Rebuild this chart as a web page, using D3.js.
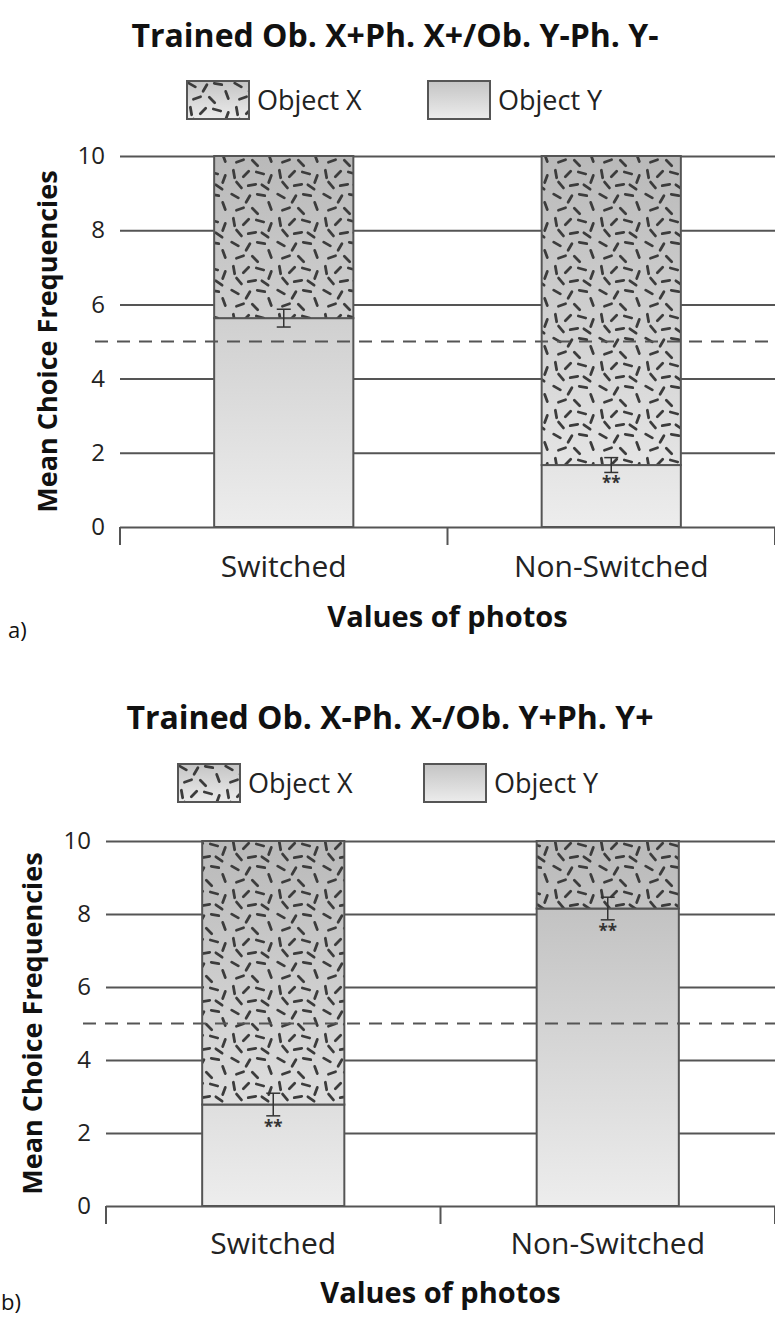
<!DOCTYPE html>
<html>
<head>
<meta charset="utf-8">
<script src="https://cdn.jsdelivr.net/npm/d3@7"></script>
<style>
  body { margin: 0; background: #fff; }
  svg { display: block; font-family: "Open Sans", sans-serif; }
</style>
</head>
<body>
<div id="chart"></div>
<script>
// data
var categories = ["Switched", "Non-Switched"];
var seriesNames = ["Object X", "Object Y"];
var yTicks = [0, 2, 4, 6, 8, 10];
var total = 10;
var chance = 5;

var titleA = "Trained Ob. X+Ph. X+/Ob. Y-Ph. Y-";
var objectYA = [5.63, 1.67];
var errA = [0.24, 0.2];
var starsA = ["", "**"];

var titleB = "Trained Ob. X-Ph. X-/Ob. Y+Ph. Y+";
var objectYB = [2.78, 8.15];
var errB = [0.31, 0.31];
var starsB = ["**", "**"];

var W = 775, H = 1317;
var ink = "#555";

var svg = d3.select("#chart")
  .append("svg")
    .attr("width", W)
    .attr("height", H);

var defs = svg.append("defs");

// confetti dashes for the Object X texture (one pattern tile)
var dashes = [[5,4,30],[18,7,-60],[31,3,10],[40,14,70],[10,17,-20],[25,19,45],[4,30,80],
              [16,30,-45],[30,29,15],[40,35,-70],[9,41,50],[22,41,-10],[35,43,35]];
var pat = defs.append("pattern")
    .attr("id", "confetti")
    .attr("patternUnits", "userSpaceOnUse")
    .attr("width", 46).attr("height", 48);
pat.selectAll("line")
  .data(dashes)
  .enter().append("line")
    .attr("x1", -3.8).attr("x2", 3.8)
    .attr("y1", 0).attr("y2", 0)
    .attr("transform", function(d){ return "translate(" + d[0] + "," + d[1] + ") rotate(" + d[2] + ")"; })
    .attr("stroke", "#3c3c3c")
    .attr("stroke-width", 2.8)
    .attr("stroke-linecap", "round");

var legGrad = defs.append("linearGradient")
    .attr("id", "legGrad").attr("x1", 0).attr("y1", 0).attr("x2", 0).attr("y2", 1);
legGrad.append("stop").attr("offset", 0).attr("stop-color", "#c4c4c4");
legGrad.append("stop").attr("offset", 1).attr("stop-color", "#ececec");

function drawPanel(p) {
  var g = svg.append("g");

  var y = d3.scaleLinear().domain([0, total]).range([p.bottom, p.top]);
  var x = d3.scaleBand().domain(categories)
    .range([p.left, p.right])
    .paddingInner(0.575).paddingOuter(0.2875);

  // gray gradient spanning the value range
  var grad = defs.append("linearGradient")
      .attr("id", "grad" + p.id)
      .attr("gradientUnits", "userSpaceOnUse")
      .attr("x1", 0).attr("x2", 0)
      .attr("y1", y(total)).attr("y2", y(0));
  grad.append("stop").attr("offset", 0).attr("stop-color", "#b9b9b9");
  grad.append("stop").attr("offset", 1).attr("stop-color", "#ededed");

  // title
  g.append("text")
    .attr("x", p.titleX).attr("y", p.titleY)
    .attr("text-anchor", "middle")
    .style("font-size", "32px").style("font-weight", "bold")
    .attr("fill", "#111")
    .text(p.title);

  // legend
  var leg = g.selectAll(".leg")
    .data(seriesNames)
    .enter().append("g")
      .attr("transform", function(d, i){ return "translate(" + p.legX[i] + "," + p.legY + ")"; });
  leg.append("rect")
    .attr("width", 62).attr("height", 38)
    .attr("fill", "url(#legGrad)");
  leg.filter(function(d, i){ return i === 0; }).append("rect")
    .attr("width", 62).attr("height", 38)
    .attr("fill", "url(#confetti)");
  leg.append("rect")
    .attr("width", 62).attr("height", 38)
    .attr("fill", "none").attr("stroke", ink).attr("stroke-width", 2);
  leg.append("text")
    .attr("x", 70).attr("y", 29)
    .style("font-size", "27px")
    .attr("fill", "#222")
    .text(function(d){ return d; });

  // gridlines + y tick labels
  var yAxis = g.append("g")
    .attr("transform", "translate(" + p.left + ",0)")
    .call(d3.axisLeft(y).tickValues(yTicks).tickSize(-(p.right - p.left)).tickPadding(15));
  yAxis.select(".domain").remove();
  yAxis.selectAll(".tick line").attr("stroke", ink).attr("stroke-width", 2);
  yAxis.selectAll(".tick text")
    .style("font-size", "24px").style("font-family", "Open Sans, sans-serif")
    .attr("fill", "#222");

  // category boundary ticks on the x axis
  var bounds = [p.left].concat(categories.map(function(c){
    return x(c) + x.bandwidth() + x.step() * x.paddingInner() / 2;
  }));
  g.selectAll(".btick")
    .data(bounds)
    .enter().append("line")
      .attr("x1", function(d){ return d; }).attr("x2", function(d){ return d; })
      .attr("y1", y(0)).attr("y2", y(0) + 18)
      .attr("stroke", ink).attr("stroke-width", 2);

  // stacked bars
  var bars = g.selectAll(".bar")
    .data(categories.map(function(c, i){ return { cat: c, yv: p.objectY[i], err: p.err[i], star: p.stars[i] }; }))
    .enter().append("g");
  // Object Y (bottom)
  bars.append("rect")
    .attr("x", function(d){ return x(d.cat); })
    .attr("width", x.bandwidth())
    .attr("y", function(d){ return y(d.yv); })
    .attr("height", function(d){ return y(0) - y(d.yv); })
    .attr("fill", "url(#grad" + p.id + ")")
    .attr("stroke", ink).attr("stroke-width", 2);
  // Object X (top)
  bars.append("rect")
    .attr("x", function(d){ return x(d.cat); })
    .attr("width", x.bandwidth())
    .attr("y", y(total))
    .attr("height", function(d){ return y(d.yv) - y(total); })
    .attr("fill", "url(#grad" + p.id + ")");
  bars.append("rect")
    .attr("x", function(d){ return x(d.cat); })
    .attr("width", x.bandwidth())
    .attr("y", y(total))
    .attr("height", function(d){ return y(d.yv) - y(total); })
    .attr("fill", "url(#confetti)")
    .attr("stroke", ink).attr("stroke-width", 2);

  // error bars
  var cx = function(d){ return x(d.cat) + x.bandwidth() / 2; };
  bars.append("line")
    .attr("x1", cx).attr("x2", cx)
    .attr("y1", function(d){ return y(d.yv + d.err); })
    .attr("y2", function(d){ return y(d.yv - d.err); })
    .attr("stroke", "#333").attr("stroke-width", 1.5);
  [1, -1].forEach(function(s){
    bars.append("line")
      .attr("x1", function(d){ return cx(d) - 7; }).attr("x2", function(d){ return cx(d) + 7; })
      .attr("y1", function(d){ return y(d.yv + s * d.err); })
      .attr("y2", function(d){ return y(d.yv + s * d.err); })
      .attr("stroke", "#333").attr("stroke-width", 1.5);
  });
  bars.append("text")
    .attr("x", cx)
    .attr("y", function(d){ return y(d.yv - d.err) + 17; })
    .attr("text-anchor", "middle")
    .style("font-size", "17px").style("font-weight", "bold")
    .attr("fill", "#333")
    .text(function(d){ return d.star; });

  // chance line
  g.append("line")
    .attr("x1", p.dashLeft).attr("x2", p.right)
    .attr("y1", y(chance)).attr("y2", y(chance))
    .attr("stroke", ink).attr("stroke-width", 2)
    .attr("stroke-dasharray", "13,9");

  // category labels
  var xAxis = g.append("g")
    .attr("transform", "translate(0," + y(0) + ")")
    .call(d3.axisBottom(x).tickSize(0).tickPadding(p.xPad));
  xAxis.select(".domain").remove();
  xAxis.selectAll(".tick text")
    .style("font-size", "30px").style("font-family", "Open Sans, sans-serif")
    .attr("fill", "#222");

  // axis titles
  g.append("text")
    .attr("transform", "translate(" + p.yLabelX + "," + ((y(0) + y(total)) / 2) + ") rotate(-90)")
    .attr("text-anchor", "middle")
    .style("font-size", "27px").style("font-weight", "bold")
    .attr("fill", "#111")
    .text("Mean Choice Frequencies");
  g.append("text")
    .attr("x", bounds[1]).attr("y", p.xTitleY)
    .attr("text-anchor", "middle")
    .style("font-size", "29px").style("font-weight", "bold")
    .attr("fill", "#111")
    .text("Values of photos");

  g.append("text")
    .attr("x", p.tagX).attr("y", p.tagY)
    .style("font-size", "22px")
    .attr("fill", "#111")
    .text(p.tag);
}

drawPanel({ id: "a", title: titleA, objectY: objectYA, err: errA, stars: starsA,
  top: 156, bottom: 527, left: 120, right: 775, dashLeft: 95,
  titleX: 395, titleY: 47, legX: [187, 428], legY: 81, xPad: 29,
  yLabelX: 57, xTitleY: 627, tag: "a)", tagX: 8, tagY: 638 });

drawPanel({ id: "b", title: titleB, objectY: objectYB, err: errB, stars: starsB,
  top: 841, bottom: 1206, left: 106, right: 775, dashLeft: 83,
  titleX: 390, titleY: 729, legX: [178, 424], legY: 764, xPad: 27,
  yLabelX: 42, xTitleY: 1303, tag: "b)", tagX: 1, tagY: 1310 });
</script>
</body>
</html>
